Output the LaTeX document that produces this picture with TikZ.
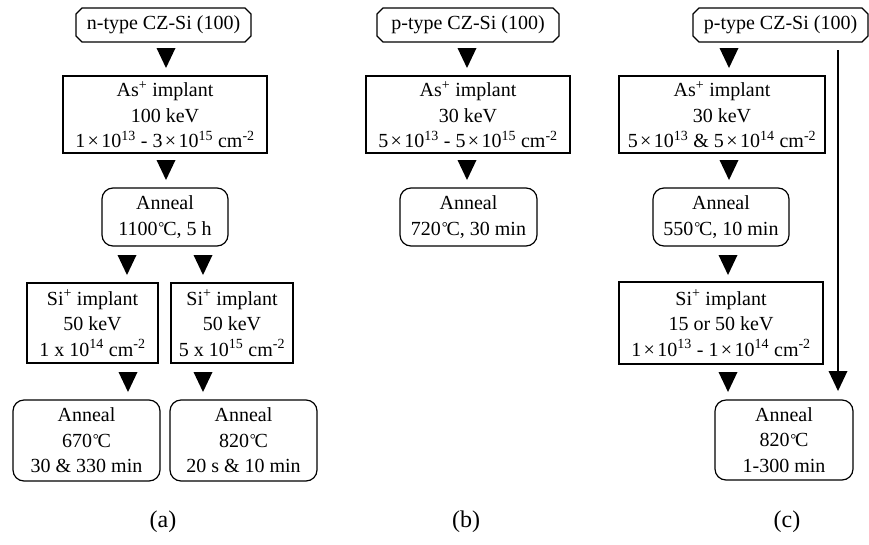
\documentclass[tikz,border=0pt]{standalone}
\usepackage{fontspec}
\setmainfont{Liberation Serif}
\usetikzlibrary{shapes.misc}
\newcommand\degC{\kern.04em{\fontsize{15}{15}\selectfont\raisebox{.35ex}{°}}\kern-.06em C}
\newcommand\tms{\kern.12em×\kern.12em}
\newcommand\sups[1]{\textsuperscript{#1}}
\begin{document}
\begin{tikzpicture}[x=1pt,y=-1pt,
  font=\fontsize{20}{25.5}\selectfont,
  base/.style={draw, line width=1.2pt, inner sep=0pt, align=center},
  sqbox/.style={base},
  rbox/.style={base, rounded corners=11pt},
  cbox/.style={base, chamfered rectangle, chamfered rectangle xsep=3pt, chamfered rectangle ysep=3pt},
  lbl/.style={font=\fontsize{24}{28}\selectfont},
  dtri/.pic={\fill (-9.5,0) -- (9.5,0) -- (0,20) -- cycle;}
]
\useasboundingbox (0,0) rectangle (869,544);

% ---------- (a) ----------
\node[cbox, minimum width=175, minimum height=34] (a0) at (163.5,25) {n-type CZ-Si (100)};
\node[sqbox, minimum width=204, minimum height=77] (a1) at (165,114.5)
  {As\sups{+} implant\\100 keV\\1\tms 10\sups{13} - 3\tms 10\sups{15} cm\sups{-2}};
\node[rbox, minimum width=126, minimum height=58] (a2) at (165,217) {Anneal\\1100\degC, 5 h};
\node[sqbox, minimum width=131, minimum height=80] (a3) at (92.5,323)
  {Si\sups{+} implant\\50 keV\\1 x 10\sups{14} cm\sups{-2}};
\node[sqbox, minimum width=122, minimum height=80] (a4) at (232,323)
  {Si\sups{+} implant\\50 keV\\5 x 10\sups{15} cm\sups{-2}};
\node[rbox, minimum width=147, minimum height=81] (a5) at (86.5,440.5) {Anneal\\670\degC\\30 \& 330 min};
\node[rbox, minimum width=147, minimum height=81] (a6) at (243.5,440.5) {Anneal\\820\degC\\20 s \& 10 min};
\pic at (166,48) {dtri};
\pic at (166,160) {dtri};
\pic at (127,255) {dtri};
\pic at (203,255) {dtri};
\pic at (128,372) {dtri};
\pic at (203,372) {dtri};
\node[lbl] (la) at (163,522) {(a)};

% ---------- (b) ----------
\node[cbox, minimum width=182, minimum height=34] (b0) at (468,25) {p-type CZ-Si (100)};
\node[sqbox, minimum width=204, minimum height=77] (b1) at (468,114.5)
  {As\sups{+} implant\\30 keV\\5\tms 10\sups{13} - 5\tms 10\sups{15} cm\sups{-2}};
\node[rbox, minimum width=137, minimum height=58] (b2) at (468.5,217) {Anneal\\720\degC, 30 min};
\pic at (467,48) {dtri};
\pic at (467,160) {dtri};
\node[lbl] (lb) at (466,522) {(b)};

% ---------- (c) ----------
\node[cbox, minimum width=175, minimum height=34] (c0) at (780.5,25) {p-type CZ-Si (100)};
\node[sqbox, minimum width=206, minimum height=77] (c1) at (722,114.5)
  {As\sups{+} implant\\30 keV\\5\tms 10\sups{13} \& 5\tms 10\sups{14} cm\sups{-2}};
\node[rbox, minimum width=136, minimum height=58] (c2) at (721,217) {Anneal\\550\degC, 10 min};
\node[sqbox, minimum width=204, minimum height=82] (c3) at (721,323)
  {Si\sups{+} implant\\15 or 50 keV\\1\tms 10\sups{13} - 1\tms 10\sups{14} cm\sups{-2}};
\node[rbox, minimum width=138, minimum height=80] (c4) at (784,440) {Anneal\\820\degC\\1-300 min};
\pic at (729,48) {dtri};
\pic at (729,160) {dtri};
\pic at (728,255) {dtri};
\pic at (728,372) {dtri};
\coordinate (cs) at (838,50);
\coordinate (ce) at (838,371);
\draw[line width=1.2pt] (cs) -- (ce);
\pic at (ce) {dtri};
\node[lbl] (lc) at (787,522) {(c)};
\end{tikzpicture}
\end{document}
